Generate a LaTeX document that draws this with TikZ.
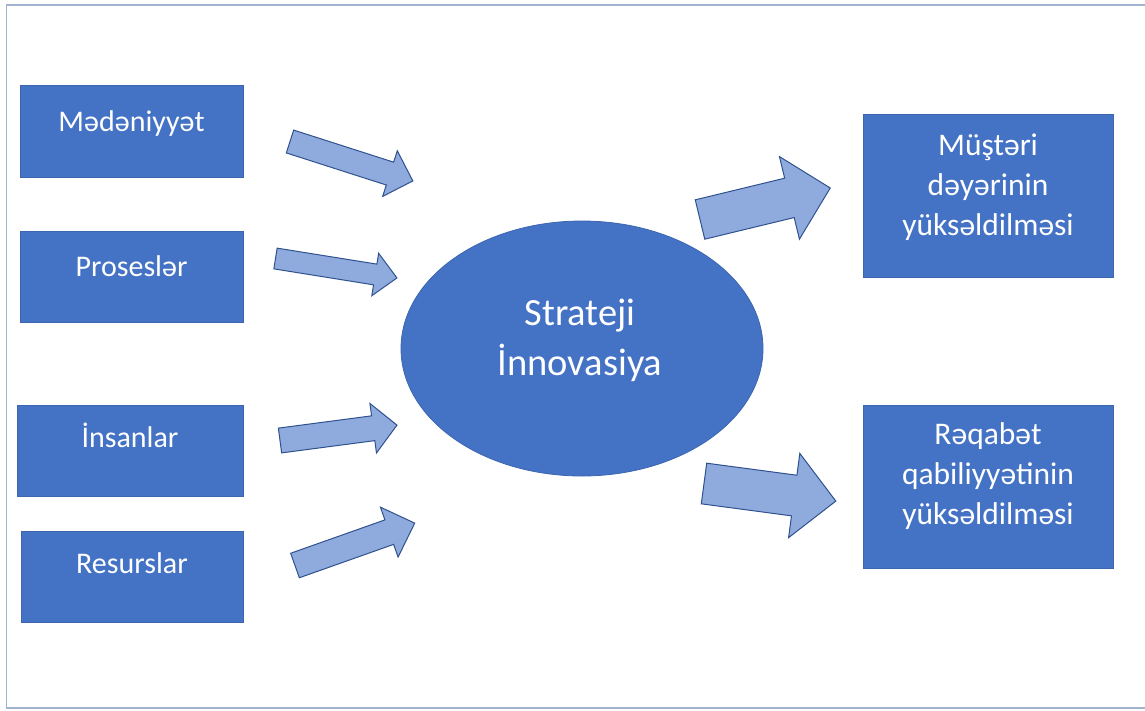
\documentclass[tikz,border=0pt]{standalone}
\usepackage{fontspec}
\setmainfont{Carlito}
\usetikzlibrary{shapes.geometric}
\definecolor{boxblue}{HTML}{4472C4}
\definecolor{boxedge}{HTML}{3C66B0}
\definecolor{arrfill}{HTML}{8FAADC}
\definecolor{arredge}{HTML}{2F528F}
\definecolor{framecol}{HTML}{A3B3CE}
\tikzset{
  boxst/.style={rectangle, fill=boxblue, draw=boxedge, line width=0.8pt, inner sep=0pt},
  ellst/.style={ellipse, fill=boxblue, draw=boxedge, line width=0.8pt, inner sep=0pt},
  lbl/.style={text=white, font=\fontsize{30}{40}\selectfont, align=center, inner sep=0pt},
  rlbl/.style={text=white, font=\fontsize{31.5}{40}\selectfont, align=center, inner sep=0pt},
  biglbl/.style={text=white, font=\fontsize{38.5}{50}\selectfont, align=center, inner sep=0pt},
  arrst/.style={fill=arrfill, draw=arredge, line width=1pt, line join=miter},
  framest/.style={draw=framecol, line width=1.5pt}
}
\newcommand\blockarr[7]{%
  \draw[arrst, shift={(#1,#2)}, rotate=#3]
    (0,{#5/2}) -- ({#4-#7},{#5/2}) -- ({#4-#7},{#6/2}) -- (#4,0)
    -- ({#4-#7},{-#6/2}) -- ({#4-#7},{-#5/2}) -- (0,{-#5/2}) -- cycle;}
\begin{document}
\begin{tikzpicture}[x=1pt,y=-1pt]
\useasboundingbox (0,0) rectangle (1145,710);
% frame
\coordinate (f1) at (1145,5);
\coordinate (f2) at (6.5,5);
\coordinate (f3) at (6.5,708);
\coordinate (f4) at (1145,708);
\draw[framest] (f1) -- (f2) -- (f3) -- (f4);
% left boxes
\node[boxst, minimum width=223pt, minimum height=92pt] (m) at (131.5,131) {};
\node[lbl, anchor=base] (mt) at (131.5,131) {Mədəniyyət};
\node[boxst, minimum width=223pt, minimum height=91pt] (p) at (131.5,276.5) {};
\node[lbl, anchor=base] (pt) at (131.5,276) {Proseslər};
\node[boxst, minimum width=226pt, minimum height=91pt] (i) at (130,450.5) {};
\node[lbl, anchor=base] (it) at (130,447) {İnsanlar};
\node[boxst, minimum width=222pt, minimum height=91pt] (r) at (132,576.5) {};
\node[lbl, anchor=base] (rt) at (132,573) {Resurslar};
% right boxes
\node[boxst, minimum width=250pt, minimum height=163pt] (ms) at (988,195.5) {};
\node[rlbl, anchor=base] (mst) at (988,235) {Müştəri\\dəyərinin\\yüksəldilməsi};
\node[boxst, minimum width=250pt, minimum height=163pt] (rq) at (988,486.5) {};
\node[rlbl, anchor=base] (rqt) at (988,524) {Rəqabət\\qabiliyyətinin\\yüksəldilməsi};
% ellipse
\node[ellst, minimum width=362pt, minimum height=255pt] (si) at (582,348.5) {};
\node[biglbl, anchor=base] (sit) at (580,375) {Strateji\\İnnovasiya};
% block arrows
\blockarr{290}{141.5}{-17.8}{129}{24}{48}{24}
\blockarr{275.5}{258.5}{-9.1}{123}{21}{43}{22}
\blockarr{280}{440.5}{7.5}{118}{25}{50}{24}
\blockarr{295}{565.5}{19.5}{127}{26}{53}{27}
\blockarr{700}{219.5}{13.6}{134}{40.5}{85}{42}
\blockarr{704}{483.5}{-7.6}{133}{41}{85}{42}
\end{tikzpicture}
\end{document}
